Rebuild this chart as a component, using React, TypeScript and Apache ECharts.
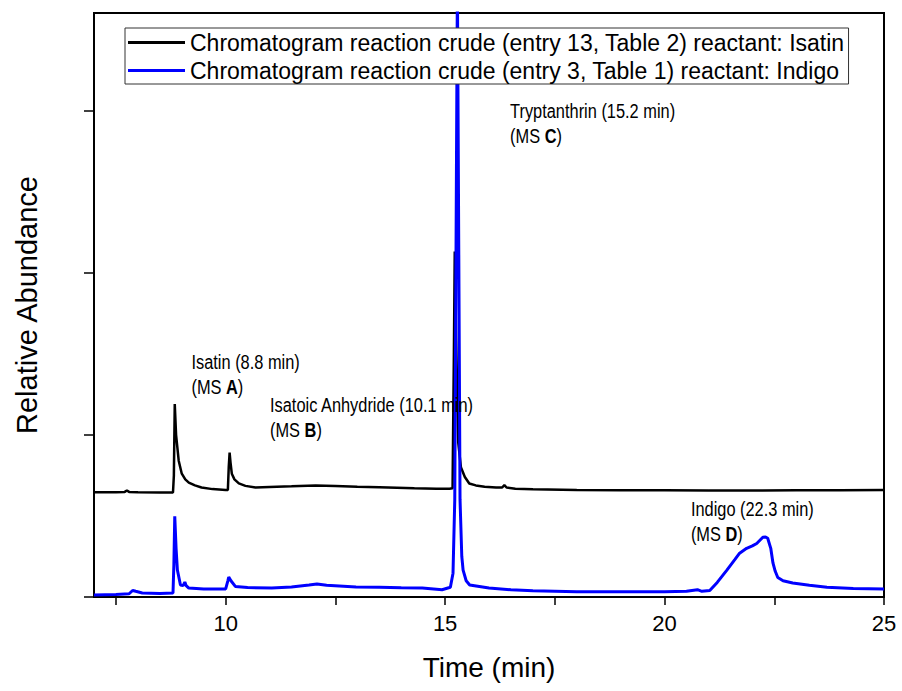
import React, { useEffect, useRef } from "react";
import * as echarts from "echarts";

const seriesNames = [
  "Chromatogram reaction crude (entry 13, Table 2) reactant: Isatin",
  "Chromatogram reaction crude (entry 3, Table 1) reactant: Indigo",
];

// [time (min), relative abundance] — offset black trace
const isatinRunTrace: [number, number][] = [
  [7.0, 0.645], [7.5, 0.645], [7.7, 0.648], [7.75, 0.657], [7.8, 0.648], [8.0, 0.645],
  [8.5, 0.644], [8.8, 0.644], [8.82, 0.75], [8.84, 1.19], [8.87, 1.0], [8.93, 0.84],
  [9.0, 0.76], [9.08, 0.725], [9.16, 0.705], [9.3, 0.688], [9.45, 0.675], [9.7, 0.665],
  [10.0, 0.66], [10.05, 0.66], [10.07, 0.8], [10.09, 0.89], [10.11, 0.83], [10.14, 0.76],
  [10.2, 0.725], [10.3, 0.7], [10.45, 0.685], [10.68, 0.675], [11.0, 0.678], [11.5, 0.682],
  [12.05, 0.687], [12.5, 0.684], [13.0, 0.68], [13.5, 0.677], [14.3, 0.67], [14.8, 0.668],
  [15.1, 0.668], [15.17, 0.67], [15.2, 1.5], [15.22, 2.13], [15.25, 1.6], [15.3, 0.95],
  [15.36, 0.8], [15.45, 0.74], [15.55, 0.7], [15.7, 0.688], [15.9, 0.68], [16.16, 0.675],
  [16.3, 0.675], [16.35, 0.69], [16.4, 0.675], [16.6, 0.668], [17.0, 0.664], [18.0, 0.66],
  [19.0, 0.658], [20.0, 0.658], [21.0, 0.657], [22.0, 0.657], [23.0, 0.658], [24.0, 0.658],
  [25.0, 0.659],
];

// [time (min), relative abundance] — blue trace
const indigoRunTrace: [number, number][] = [
  [7.0, 0.012], [7.5, 0.015], [7.8, 0.02], [7.88, 0.04], [7.95, 0.035], [8.1, 0.025],
  [8.5, 0.022], [8.8, 0.025], [8.82, 0.2], [8.84, 0.497], [8.87, 0.3], [8.9, 0.166],
  [8.97, 0.074], [9.03, 0.07], [9.07, 0.092], [9.1, 0.07], [9.16, 0.055], [9.5, 0.05],
  [9.91, 0.049], [10.0, 0.05], [10.05, 0.1], [10.07, 0.123], [10.12, 0.1], [10.22, 0.065],
  [10.5, 0.058], [11.05, 0.055], [11.5, 0.062], [11.9, 0.074], [12.08, 0.08], [12.3, 0.072],
  [12.97, 0.062], [13.5, 0.06], [14.0, 0.057], [14.48, 0.055], [14.93, 0.045], [15.12, 0.06],
  [15.18, 0.147], [15.22, 0.6], [15.28, 3.8], [15.34, 0.6], [15.38, 0.25], [15.41, 0.166],
  [15.48, 0.1], [15.56, 0.074], [16.0, 0.055], [16.5, 0.045], [17.0, 0.038], [18.0, 0.033],
  [19.0, 0.032], [20.0, 0.032], [20.5, 0.035], [20.75, 0.045], [20.85, 0.035], [21.03, 0.04],
  [21.2, 0.09], [21.42, 0.166], [21.6, 0.23], [21.71, 0.27], [21.87, 0.3], [22.0, 0.315],
  [22.1, 0.33], [22.24, 0.368], [22.3, 0.37], [22.35, 0.362], [22.42, 0.3], [22.47, 0.21],
  [22.52, 0.16], [22.58, 0.12], [22.7, 0.1], [22.92, 0.086], [23.3, 0.072], [23.7, 0.06],
  [24.3, 0.053], [25.0, 0.05],
];

const xTickValues = [7.5, 10, 12.5, 15, 17.5, 20, 22.5, 25];
const xLabelValues = [10, 15, 20, 25];
const yTickValues = [0, 1, 2, 3];

const peakNames = [
  "Isatin (8.8 min)",
  "Isatoic Anhydride (10.1 min)",
  "Tryptanthrin (15.2 min)",
  "Indigo (22.3 min)",
];
const peakMsLetters = ["A", "B", "C", "D"];
const peakLabelTimes = [9.22, 11.01, 16.48, 20.6];
const peakLabelValues = [1.452, 1.188, 3.0, 0.542];

const FONT = "'Liberation Sans', Arial, sans-serif";

export default function App() {
  const ref = useRef<HTMLDivElement>(null);
  useEffect(() => {
    if (!ref.current) return;
    const chart = echarts.init(ref.current, undefined, { renderer: "svg" });
    chart.setOption({
      animation: false,
      backgroundColor: "#fff",
      grid: {
        left: 94, right: 18, top: 13, bottom: 94,
        show: true, borderColor: "#000", borderWidth: 2, backgroundColor: "transparent",
      },
      legend: {
        orient: "vertical",
        left: 125,
        top: 28,
        data: seriesNames,
        icon: "rect",
        itemWidth: 57,
        itemHeight: 3,
        itemGap: 5,
        padding: [3, 4, 2, 3],
        borderColor: "#333",
        borderWidth: 1,
        backgroundColor: "#fff",
        selectedMode: false,
        textStyle: { fontSize: 23, fontFamily: FONT, color: "#000" },
      },
      xAxis: {
        type: "value",
        min: 7,
        max: 25,
        name: "Time (min)",
        nameLocation: "middle",
        nameGap: 56,
        nameTextStyle: { fontSize: 28, fontFamily: FONT, color: "#000" },
        axisLine: { show: true, lineStyle: { color: "#000", width: 2 } },
        axisTick: { show: true, customValues: xTickValues, length: 8, lineStyle: { color: "#000", width: 1.5 } },
        axisLabel: {
          customValues: xLabelValues,
          fontSize: 22, fontFamily: FONT, color: "#000", margin: 15,
        },
        splitLine: { show: false },
      },
      yAxis: {
        type: "value",
        min: 0,
        max: 3.6,
        name: "Relative Abundance",
        nameLocation: "middle",
        nameGap: 53,
        nameTextStyle: { fontSize: 29, fontFamily: FONT, color: "#000" },
        axisLine: { show: true, lineStyle: { color: "#000", width: 2 } },
        axisTick: { show: true, customValues: yTickValues, length: 10, lineStyle: { color: "#000", width: 1.5 } },
        axisLabel: { show: false },
        splitLine: { show: false },
      },
      series: [
        {
          name: seriesNames[0],
          type: "line",
          data: isatinRunTrace,
          showSymbol: false,
          symbol: "none",
          clip: true,
          color: "#000000",
          lineStyle: { color: "#000000", width: 2.5 },
        },
        {
          name: seriesNames[1],
          type: "line",
          data: indigoRunTrace,
          showSymbol: false,
          symbol: "none",
          clip: true,
          color: "#0000ff",
          lineStyle: { color: "#0000ff", width: 3 },
        },
      ],
    });

    const annotations = peakNames.map((name, i) => {
      const [px, py] = chart.convertToPixel({ gridIndex: 0 }, [peakLabelTimes[i], peakLabelValues[i]]) as number[];
      return {
        type: "text",
        x: px,
        y: py - 12.5,
        scaleX: 0.78,
        z: 50,
        style: {
          text: `{n|${name}}\n{n|(MS }{b|${peakMsLetters[i]}}{n|)}`,
          align: "left",
          verticalAlign: "top",
          fill: "#000",
          rich: {
            n: { fontSize: 21, fontFamily: FONT, lineHeight: 25, fill: "#000" },
            b: { fontSize: 21, fontFamily: FONT, fontWeight: "bold", lineHeight: 25, fill: "#000" },
          },
        },
      };
    });
    chart.setOption({ graphic: annotations });

    return () => chart.dispose();
  }, []);
  return <div ref={ref} style={{ position: "fixed", left: 0, top: 0, width: 902, height: 691 }} />;
}
